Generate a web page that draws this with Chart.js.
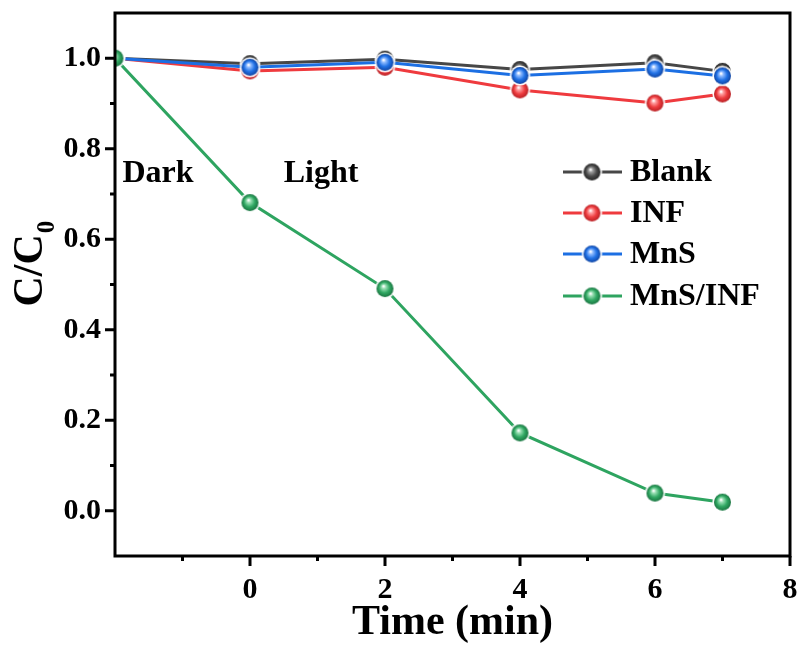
<!DOCTYPE html>
<html>
<head>
<meta charset="utf-8">
<script src="https://cdn.jsdelivr.net/npm/chart.js@4/dist/chart.umd.min.js"></script>
<style>
  html, body { margin: 0; padding: 0; background: #ffffff; }
  #wrap { width: 802px; height: 650px; position: relative; }
</style>
</head>
<body>
<div id="wrap"><canvas id="c" width="802" height="650"></canvas></div>
<script>
// Time points (min); -2 is the dark adsorption start
const times = [-2, 0, 2, 4, 6, 7];

// C/C0 for each sample
const blank  = [1.000, 0.988, 0.998, 0.975, 0.990, 0.971];
const inf    = [1.000, 0.972, 0.980, 0.930, 0.901, 0.921];
const mns    = [1.000, 0.980, 0.991, 0.962, 0.976, 0.961];
const mnsInf = [1.000, 0.681, 0.491, 0.172, 0.039, 0.019];

const seriesNames = ['Blank', 'INF', 'MnS', 'MnS/INF'];

// Axis ticks
const xMajor = [0, 2, 4, 6, 8];
const xMinor = [-1, 1, 3, 5, 7];
const yMajor = [0.0, 0.2, 0.4, 0.6, 0.8, 1.0];
const yMinor = [0.1, 0.3, 0.5, 0.7, 0.9];

const SERIF = '"Liberation Serif", "Times New Roman", serif';

// Shaded sphere marker
function sphere(base, dark, light) {
  const r = 8.5, ring = 1.6, size = Math.ceil((r + ring) * 2) + 2;
  const cv = document.createElement('canvas');
  cv.width = size; cv.height = size;
  const g = cv.getContext('2d');
  const c = size / 2;
  g.beginPath();
  g.arc(c, c, r + ring, 0, Math.PI * 2);
  g.fillStyle = 'rgba(255,255,255,0.95)';
  g.fill();
  const grad = g.createRadialGradient(c - 1.5, c - 2.5, 0.5, c, c, r);
  grad.addColorStop(0, '#ffffff');
  grad.addColorStop(0.2, light);
  grad.addColorStop(0.6, base);
  grad.addColorStop(1, dark);
  g.beginPath();
  g.arc(c, c, r, 0, Math.PI * 2);
  g.fillStyle = grad;
  g.fill();
  return cv;
}

const colors = [
  { line: '#474747', img: sphere('#4a4a4a', '#262626', '#a0a0a0') },
  { line: '#ef3a3e', img: sphere('#ee3c3f', '#b82125', '#ffa0a2') },
  { line: '#1c6fe3', img: sphere('#2172e6', '#1045a3', '#93bdff') },
  { line: '#2ea460', img: sphere('#31a863', '#1a7541', '#9be0b5') }
];

const seriesData = [blank, inf, mns, mnsInf];

const datasets = seriesData.map((vals, i) => ({
  label: seriesNames[i],
  data: times.map((t, k) => ({ x: t, y: vals[k] })),
  borderColor: colors[i].line,
  borderWidth: 3,
  pointStyle: colors[i].img,
  pointRadius: 9,
  pointHoverRadius: 9,
  tension: 0,
  clip: 0,
  order: 3 - i
}));

// Frame, tick marks, y title, text labels and legend
const decor = {
  id: 'decor',
  afterDatasetsDraw(chart) {
    const { ctx, chartArea: a, scales: { x, y } } = chart;
    ctx.save();
    ctx.strokeStyle = '#000';
    ctx.lineWidth = 3;
    ctx.lineCap = 'butt';
    ctx.strokeRect(a.left, a.top, a.right - a.left, a.bottom - a.top);

    ctx.beginPath();
    xMajor.forEach(v => { const p = x.getPixelForValue(v); ctx.moveTo(p, a.bottom); ctx.lineTo(p, a.bottom + 10); });
    xMinor.forEach(v => { const p = x.getPixelForValue(v); ctx.moveTo(p, a.bottom); ctx.lineTo(p, a.bottom + 5); });
    yMajor.forEach(v => { const p = y.getPixelForValue(v); ctx.moveTo(a.left, p); ctx.lineTo(a.left - 10, p); });
    yMinor.forEach(v => { const p = y.getPixelForValue(v); ctx.moveTo(a.left, p); ctx.lineTo(a.left - 5, p); });
    ctx.stroke();

    // Phase labels
    ctx.fillStyle = '#000';
    ctx.font = 'bold 32px ' + SERIF;
    ctx.textAlign = 'left';
    ctx.textBaseline = 'middle';
    ctx.fillText('Dark', x.getPixelForValue(-1.89), y.getPixelForValue(0.745));
    ctx.fillText('Light', x.getPixelForValue(0.50), y.getPixelForValue(0.745));

    // Y axis title with subscript
    ctx.save();
    ctx.translate(42, y.getPixelForValue(0.545));
    ctx.rotate(-Math.PI / 2);
    ctx.textBaseline = 'alphabetic';
    const main = 'C/C';
    ctx.font = 'bold 42px ' + SERIF;
    const wMain = ctx.measureText(main).width;
    ctx.font = 'bold 25px ' + SERIF;
    const wSub = ctx.measureText('0').width;
    const start = -(wMain + wSub) / 2;
    ctx.font = 'bold 42px ' + SERIF;
    ctx.fillText(main, start, 0);
    ctx.font = 'bold 25px ' + SERIF;
    ctx.fillText('0', start + wMain + 1, 12);
    ctx.restore();

    // Legend
    const rows = [172, 213, 254, 296];
    ctx.font = 'bold 32px ' + SERIF;
    ctx.textBaseline = 'middle';
    rows.forEach((ry, i) => {
      ctx.beginPath();
      ctx.strokeStyle = colors[i].line;
      ctx.lineWidth = 3;
      ctx.moveTo(563, ry); ctx.lineTo(622, ry);
      ctx.stroke();
      const img = colors[i].img;
      ctx.drawImage(img, 592 - img.width / 2, ry - img.height / 2);
      ctx.fillStyle = '#000';
      ctx.fillText(seriesNames[i], 630, ry + 1);
    });
    ctx.restore();
  }
};

new Chart(document.getElementById('c'), {
  type: 'line',
  data: { datasets },
  plugins: [decor],
  options: {
    responsive: false,
    animation: false,
    devicePixelRatio: 1,
    layout: { padding: { top: 13, right: 12, left: 0, bottom: 0 } },
    plugins: { legend: { display: false }, tooltip: { enabled: false } },
    scales: {
      x: {
        type: 'linear',
        min: -2, max: 8,
        afterBuildTicks: s => { s.ticks = xMajor.map(v => ({ value: v })); },
        afterFit: s => { s.height = 94; s.paddingLeft = 0; s.paddingRight = 0; },
        grid: { display: false, drawTicks: false },
        border: { display: false },
        ticks: {
          color: '#000',
          font: { family: SERIF, size: 30, weight: 'bold' },
          padding: 16,
          maxRotation: 0,
          callback: v => String(v)
        },
        title: {
          display: true,
          text: 'Time (min)',
          color: '#000',
          font: { family: SERIF, size: 42, weight: 'bold' },
          padding: { top: 0, bottom: 2 }
        }
      },
      y: {
        type: 'linear',
        min: -0.1, max: 1.1,
        afterBuildTicks: s => { s.ticks = yMajor.map(v => ({ value: v })); },
        afterFit: s => { s.width = 115; s.paddingTop = 0; s.paddingBottom = 0; },
        grid: { display: false, drawTicks: false },
        border: { display: false },
        ticks: {
          color: '#000',
          font: { family: SERIF, size: 30, weight: 'bold' },
          padding: 14,
          callback: v => Number(v).toFixed(1)
        }
      }
    }
  }
});
</script>
</body>
</html>
